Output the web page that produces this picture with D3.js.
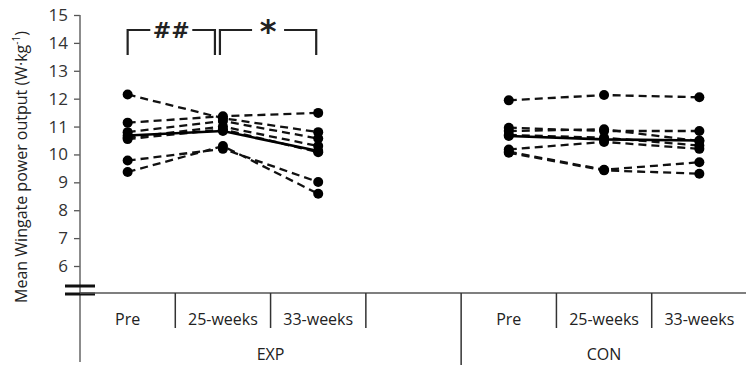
<!DOCTYPE html>
<html>
<head>
<meta charset="utf-8">
<script src="https://cdnjs.cloudflare.com/ajax/libs/d3/7.8.5/d3.min.js"></script>
<style>
  body { margin: 0; background: #fff; font-family: "Open Sans", sans-serif; }
  svg text { fill: #222; }
</style>
</head>
<body>
<div id="chart"></div>
<script>
// categories
var groups = ["EXP", "CON"];
var times = ["Pre", "25-weeks", "33-weeks"];
var slots = ["EXP|Pre", "EXP|25-weeks", "EXP|33-weeks", "EXP|", "CON|Pre", "CON|25-weeks", "CON|33-weeks"];
var yTicks = [6, 7, 8, 9, 10, 11, 12, 13, 14, 15];

// individual subjects (Pre, 25-weeks, 33-weeks)
var expSubjects = [
  [12.15, 11.30, 10.80],
  [11.14, 11.37, 11.49],
  [10.80, 11.20, 10.57],
  [10.60, 11.00, 10.30],
  [10.55, 10.90, 10.08],
  [9.78, 10.20, 9.01],
  [9.37, 10.30, 8.59]
];
var conSubjects = [
  [11.94, 12.13, 12.05],
  [10.96, 10.84, 10.84],
  [10.84, 10.90, 10.48],
  [10.70, 10.60, 10.32],
  [10.18, 10.45, 10.20],
  [10.10, 9.45, 9.72],
  [10.06, 9.43, 9.31]
];
// group means (solid line)
var expMean = [10.68, 10.84, 10.12];
var conMean = [10.66, 10.54, 10.50];

var W = 746, H = 369;
var svg = d3.select("#chart").append("svg")
  .attr("width", W).attr("height", H);

var x = d3.scaleBand().domain(slots).range([80, 747]);
var y = d3.scaleLinear().domain([6, 15]).range([266, 15]);
var axisY = 293;

function xc(g, t) { return x(g + "|" + t) + x.bandwidth() / 2; }

// y axis
var yAx = svg.append("g")
  .attr("transform", "translate(80,0)")
  .call(d3.axisLeft(y).tickValues(yTicks).tickSize(6).tickSizeOuter(0));
yAx.select(".domain").remove();
yAx.selectAll(".tick line").attr("stroke", "#555").attr("stroke-width", 1.3);
yAx.selectAll(".tick text").attr("x", -12).attr("font-size", 17)
  .attr("font-family", "Open Sans").style("fill", "#333");

svg.append("line").attr("x1", 80).attr("x2", 80)
  .attr("y1", 15).attr("y2", 362)
  .attr("stroke", "#666").attr("stroke-width", 1.5);

// axis break marks
[286, 294].forEach(function(yy) {
  svg.append("line").attr("x1", 65).attr("x2", 95)
    .attr("y1", yy).attr("y2", yy)
    .attr("stroke", "#111").attr("stroke-width", 3);
});

// x axis
svg.append("line").attr("x1", 80).attr("x2", 746)
  .attr("y1", axisY).attr("y2", axisY)
  .attr("stroke", "#555").attr("stroke-width", 1.3);

slots.forEach(function(s, i) {
  if (i === 0) return;
  var gx = x(s);
  var isGroup = s === "CON|Pre";
  svg.append("line").attr("x1", gx).attr("x2", gx)
    .attr("y1", axisY).attr("y2", isGroup ? 365 : 328)
    .attr("stroke", "#333").attr("stroke-width", 1.5);
});

svg.append("g").selectAll("text")
  .data(slots.filter(function(s) { return s.split("|")[1] !== ""; }))
  .join("text")
  .attr("x", function(s) { return x(s) + x.bandwidth() / 2; })
  .attr("y", 325)
  .attr("text-anchor", "middle")
  .attr("font-size", 16)
  .text(function(s) { return s.split("|")[1]; });

svg.append("g").selectAll("text")
  .data(groups)
  .join("text")
  .attr("x", function(g) {
    var s = slots.filter(function(k) { return k.indexOf(g + "|") === 0; });
    return (x(s[0]) + x(s[s.length - 1]) + x.bandwidth()) / 2;
  })
  .attr("y", 360)
  .attr("text-anchor", "middle")
  .attr("font-size", 16)
  .text(function(g) { return g; });

// y title
svg.append("text")
  .attr("transform", "translate(27,167) rotate(-90)")
  .attr("text-anchor", "middle")
  .attr("font-size", 16)
  .text("Mean Wingate power output (W·kg")
  .append("tspan").attr("baseline-shift", "super").attr("font-size", 10).text("-1")
  .select(function() { return this.parentNode; })
  .append("tspan").text(")");

// series
var line = d3.line();
function drawGroup(g, subjects, mean) {
  var layer = svg.append("g");
  subjects.forEach(function(vals) {
    var pts = vals.map(function(v, i) { return [xc(g, times[i]), y(v)]; });
    layer.append("path").attr("d", line(pts))
      .attr("fill", "none").attr("stroke", "#111")
      .attr("stroke-width", 2.3).attr("stroke-dasharray", "8,5");
    layer.selectAll(null).data(pts).join("circle")
      .attr("cx", function(d) { return d[0]; })
      .attr("cy", function(d) { return d[1]; })
      .attr("r", 5).attr("fill", "#000");
  });
  var mp = mean.map(function(v, i) { return [xc(g, times[i]), y(v)]; });
  layer.append("path").attr("d", line(mp))
    .attr("fill", "none").attr("stroke", "#000").attr("stroke-width", 2.6);
  layer.selectAll(null).data(mp).join("circle")
    .attr("cx", function(d) { return d[0]; })
    .attr("cy", function(d) { return d[1]; })
    .attr("r", 5).attr("fill", "#000");
}
drawGroup("EXP", expSubjects, expMean);
drawGroup("CON", conSubjects, conMean);

// significance brackets
function bracket(x1, x2, label, size, gap, weight) {
  var top = 30, bottom = 55, mid = (x1 + x2) / 2;
  var b = svg.append("g").attr("stroke", "#222").attr("stroke-width", 2.2).attr("fill", "none");
  b.append("path").attr("d", "M" + x1 + "," + bottom + "V" + top + "H" + (mid - gap));
  b.append("path").attr("d", "M" + x2 + "," + bottom + "V" + top + "H" + (mid + gap));
  svg.append("text").attr("x", mid).attr("y", top + size * 0.36)
    .attr("text-anchor", "middle").attr("font-size", size)
    .attr("font-weight", weight)
    .attr("font-family", "DejaVu Sans").text(label);
}
bracket(xc("EXP", "Pre"), xc("EXP", "25-weeks") - 8, "##", 22, 21, "bold");
bracket(xc("EXP", "25-weeks") - 3, xc("EXP", "33-weeks") - 2, "*", 32, 16, "bold");
</script>
</body>
</html>
